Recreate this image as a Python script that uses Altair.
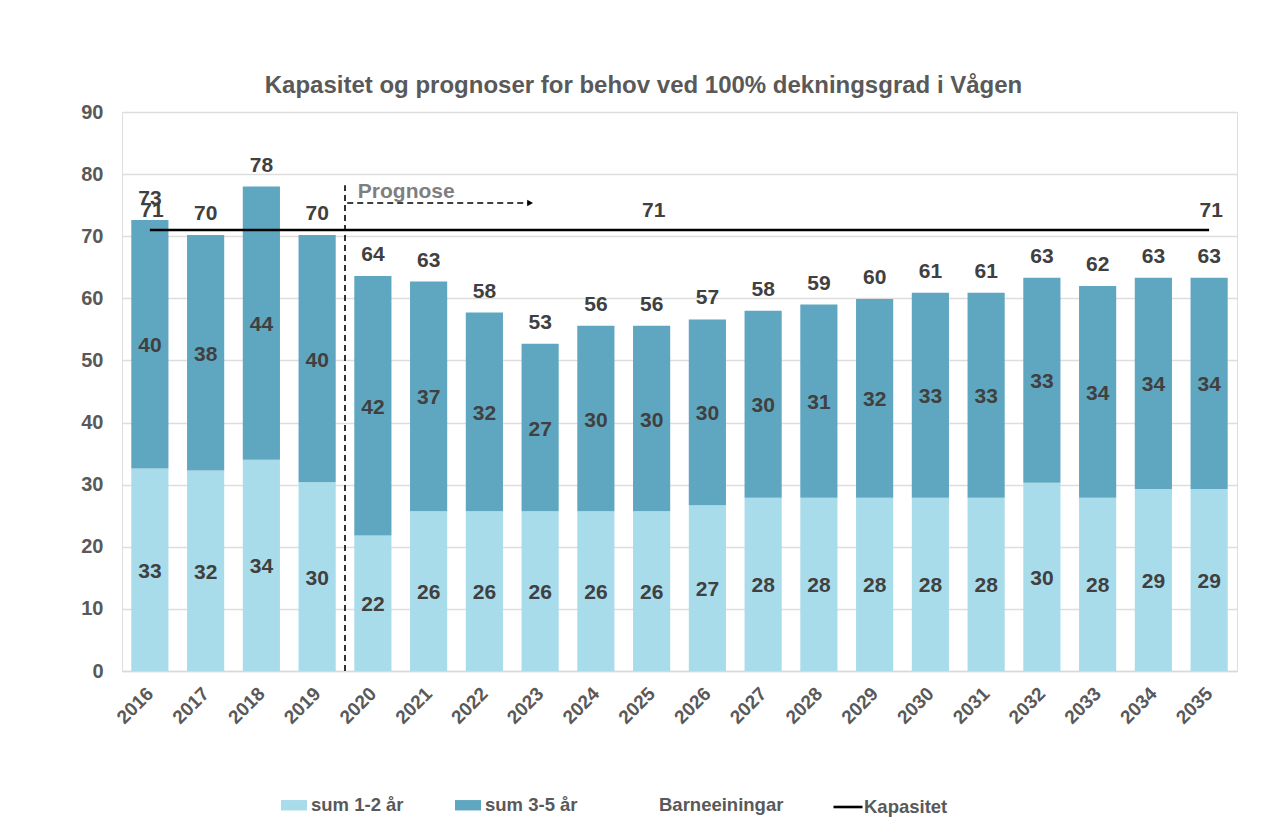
import altair as alt
import pandas as pd

# ---- data ----
years = [str(y) for y in range(2016, 2036)]
sum_1_2 = [32.6, 32.3, 34.0, 30.4, 21.8, 25.7, 25.7, 25.7, 25.7, 25.7,
           26.7, 27.9, 27.9, 27.9, 27.9, 27.9, 30.3, 27.9, 29.3, 29.3]
sum_3_5 = [40.0, 37.9, 44.0, 39.8, 41.8, 37.0, 32.0, 27.0, 29.9, 29.9,
           29.9, 30.1, 31.1, 32.0, 33.0, 33.0, 33.0, 34.1, 34.0, 34.0]
kapasitet = [71] * 20
kap_label_years = ["2016", "2025", "2035"]
bar_series = ["sum 1-2 år", "sum 3-5 år", "Barneeiningar"]
bar_colors = ["#A9DCEB", "#5FA7C0", "transparent"]
line_series = ["Kapasitet"]
line_colors = ["#000000"]

# annotation (prognosis marker), in band-index units on x and data units on y
prog_split = 3.5
prog_top = 78.2
arrow_x = [3.54, 6.82]
arrow_y = 75.35
prog_text_x = 3.73
prog_text_y = 77.1

TITLE = "Kapasitet og prognoser for behov ved 100% dekningsgrad i Vågen"
FONT = "Liberation Sans"

# ---- tables ----
rows = []
for i, y in enumerate(years):
    a, b = sum_1_2[i], sum_3_5[i]
    rows.append({"year": y, "series": bar_series[0], "start": 0, "end": a,
                 "mid": a / 2, "label": str(int(round(a)))})
    rows.append({"year": y, "series": bar_series[1], "start": a, "end": a + b,
                 "mid": a + b / 2, "label": str(int(round(b)))})
seg = pd.DataFrame(rows)
tot = pd.DataFrame({"year": years,
                    "total": [a + b for a, b in zip(sum_1_2, sum_3_5)]})
tot["label"] = tot["total"].round().astype(int).astype(str)
kap = pd.DataFrame({"year": years, "kap": kapasitet, "series": "Kapasitet"})
kap_lab = kap[kap["year"].isin(kap_label_years)].copy()
kap_lab["label"] = kap_lab["kap"].astype(str)

x_band = alt.X("year:N", sort=years, title=None,
               scale=alt.Scale(paddingInner=1/3, paddingOuter=1/6),
               axis=alt.Axis(labelAngle=-45, labelFontSize=19, labelFontWeight="bold",
                             labelColor="#595959", labelFont=FONT, ticks=False,
                             domainColor="#D9D9D9", domainWidth=1.5, labelPadding=13,
                             labelOffset=-6))
y_scale = alt.Scale(domain=[0, 90], nice=False)
y_axis = alt.Axis(values=list(range(0, 100, 10)), grid=True, gridColor="#DDDDDD",
                  gridWidth=1.3, domain=False, ticks=False, labelPadding=19,
                  labelFontSize=20, labelFontWeight="bold", labelColor="#595959",
                  labelFont=FONT)

legend_common = dict(orient="none", direction="horizontal", labelFontSize=18.5,
                     labelFontWeight="bold", labelColor="#595959", labelFont=FONT,
                     title=None)

color = alt.Color("series:N", title=None,
                  scale=alt.Scale(domain=bar_series, range=bar_colors),
                  legend=alt.Legend(legendX=159, legendY=680, columns=3,
                                    symbolType="M-1,-0.4H1V0.4H-1Z", symbolSize=676,
                                    symbolStrokeWidth=0, columnPadding=51,
                                    labelOffset=4, **legend_common))
stroke = alt.Stroke("series:N", title=None,
                    scale=alt.Scale(domain=line_series, range=line_colors),
                    legend=alt.Legend(legendX=710, legendY=679, symbolType="stroke",
                                      symbolSize=841, symbolStrokeWidth=2.6,
                                      labelOffset=0, **legend_common))

bars = alt.Chart(seg).mark_bar().encode(
    x=x_band,
    y=alt.Y("start:Q", scale=y_scale, axis=y_axis, title=None),
    y2="end:Q",
    color=color,
)
seg_text = alt.Chart(seg).mark_text(fontSize=21, fontWeight="bold", color="#404040",
                                    font=FONT, dy=2).encode(
    x=alt.X("year:N", sort=years), y=alt.Y("mid:Q"), text="label:N")
tot_text = alt.Chart(tot).mark_text(fontSize=21, fontWeight="bold", color="#404040",
                                    font=FONT, dy=-21).encode(
    x=alt.X("year:N", sort=years), y=alt.Y("total:Q"), text="label:N")
kap_line = alt.Chart(kap).mark_line(strokeWidth=2.6).encode(
    x=alt.X("year:N", sort=years), y=alt.Y("kap:Q"), stroke=stroke)
kap_text = alt.Chart(kap_lab).mark_text(fontSize=21, fontWeight="bold", color="#404040",
                                        font=FONT, dy=-19, dx=2).encode(
    x=alt.X("year:N", sort=years), y=alt.Y("kap:Q"), text="label:N")

base = alt.layer(bars, seg_text, tot_text, kap_line, kap_text)

# overlay on a linear index axis that matches the band centres
xq = alt.Scale(domain=[-0.5, 19.5], nice=False, zero=False)
vline_df = pd.DataFrame({"x": [prog_split], "y0": [0], "y1": [prog_top]})
arrow_df = pd.DataFrame({"x": [arrow_x[0]], "x2": [arrow_x[1]], "y": [arrow_y]})
head_df = pd.DataFrame({"x": [arrow_x[1]], "y": [arrow_y]})
ptext_df = pd.DataFrame({"x": [prog_text_x], "y": [prog_text_y], "t": ["Prognose"]})

vline = alt.Chart(vline_df).mark_rule(color="#000000", strokeWidth=1.6,
                                      strokeDash=[6, 4]).encode(
    x=alt.X("x:Q", scale=xq, axis=None), y="y0:Q", y2="y1:Q")
arrow = alt.Chart(arrow_df).mark_rule(color="#000000", strokeWidth=1.6,
                                      strokeDash=[6, 4]).encode(
    x=alt.X("x:Q", scale=xq, axis=None), x2="x2:Q", y="y:Q")
head = alt.Chart(head_df).mark_point(shape="triangle-right", filled=True, size=45,
                                     color="#000000", opacity=1).encode(
    x=alt.X("x:Q", scale=xq, axis=None), y="y:Q")
ptext = alt.Chart(ptext_df).mark_text(align="left", fontSize=21, fontWeight="bold",
                                      color="#7F7F7F", font=FONT).encode(
    x=alt.X("x:Q", scale=xq, axis=None), y="y:Q", text="t:N")

overlay = alt.layer(vline, arrow, head, ptext)

chart = alt.layer(base, overlay).resolve_scale(x="independent").properties(
    width=1115, height=559,
    title=alt.TitleParams(TITLE, fontSize=24, fontWeight="bold", color="#595959",
                          font=FONT, anchor="middle", dx=-36, offset=4),
    autosize=alt.AutoSizeParams(type="none"),
    padding={"left": 114, "top": 104, "right": 37, "bottom": 155},
).configure_view(stroke=None).configure(background="white")

chart.save("out.html", embed_options={"renderer": "svg", "actions": False})
